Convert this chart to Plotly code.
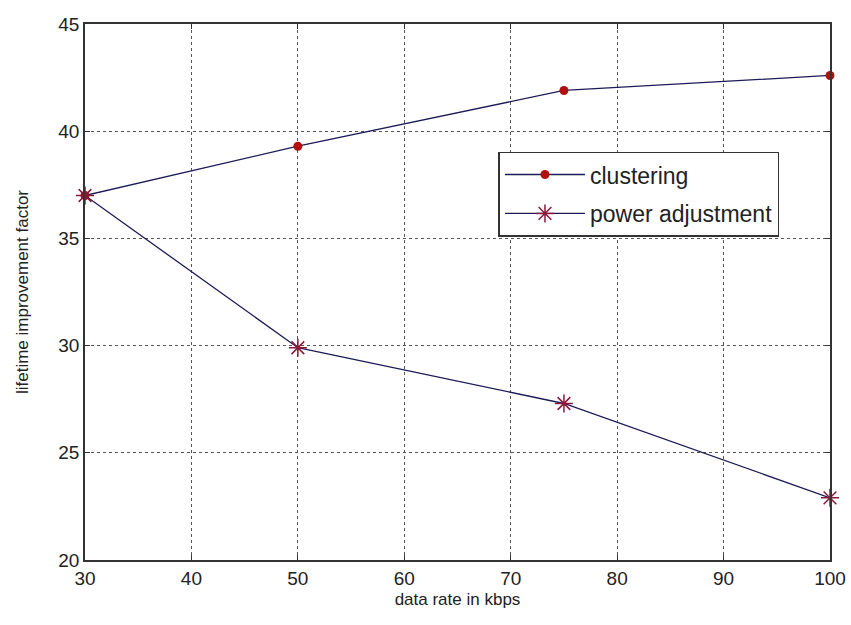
import plotly.graph_objects as go

data_rate = [30, 50, 75, 100]
clustering = [37.0, 39.3, 41.9, 42.6]
power_adjustment = [37.0, 29.9, 27.3, 22.9]
x_ticks = [30, 40, 50, 60, 70, 80, 90, 100]
y_ticks = [20, 25, 30, 35, 40, 45]

line_color = "#1c1c58"

fig = go.Figure()
fig.add_trace(go.Scatter(
    x=data_rate, y=clustering, mode="lines+markers", name="clustering",
    legendgroup="a", cliponaxis=False,
    line=dict(color=line_color, width=1.3),
    marker=dict(symbol="circle", size=9, color="#b01010", line=dict(width=0)),
))
fig.add_trace(go.Scatter(
    x=data_rate, y=power_adjustment, mode="lines+markers", name="power adjustment",
    legendgroup="b", cliponaxis=False,
    line=dict(color=line_color, width=1.3),
    marker=dict(symbol="asterisk-open", size=15, color="#8b1a3a",
                line=dict(width=1.5, color="#8b1a3a")),
))

axis_common = dict(
    showline=True, linecolor="#333333", linewidth=1.5, mirror="ticks",
    ticks="inside", ticklen=5, tickcolor="#333333",
    showgrid=True, gridcolor="#555555", griddash="dot", gridwidth=1,
    zeroline=False, automargin=False,
    tickfont=dict(family="Liberation Sans, Arial", size=19, color="#222222"),
    title_font=dict(family="Liberation Sans, Arial", size=17, color="#222222"),
)

fig.update_layout(
    width=851, height=625,
    margin=dict(l=85, r=21, t=24, b=65),
    paper_bgcolor="white", plot_bgcolor="white",
    showlegend=True,
    legend=dict(
        x=0.555, y=0.762, xanchor="left", yanchor="top",
        bordercolor="#333333", borderwidth=1.5, bgcolor="white",
        font=dict(family="Liberation Sans, Arial", size=23, color="#222222"),
        itemwidth=80, traceorder="grouped", tracegroupgap=6,
    ),
    xaxis=dict(range=[30, 100], tickvals=x_ticks, title=dict(text="data rate in kbps", standoff=6), **axis_common),
    yaxis=dict(range=[20, 45], tickvals=y_ticks, title=dict(text="lifetime improvement factor", standoff=25), **axis_common),
)

fig.write_html("out.html", config={"displayModeBar": False},
               post_script="document.body.style.margin='0';document.body.style.overflow='hidden';")
